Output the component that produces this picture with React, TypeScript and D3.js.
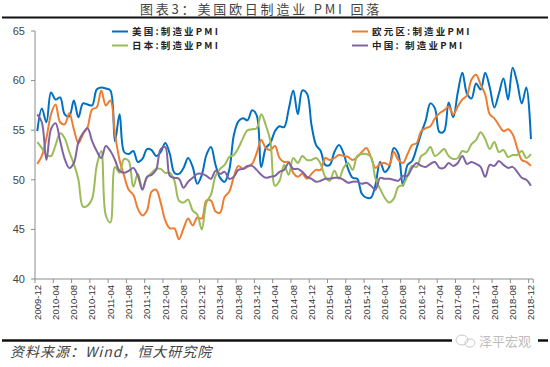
import * as d3 from 'd3'

// 月份类目：2009-12 ~ 2018-12
const MONTHS = d3
  .timeMonth.range(new Date(2009, 11, 1), new Date(2019, 0, 1))
  .map(d3.timeFormat('%Y-%m'))

const Y_TICKS = [40, 45, 50, 55, 60, 65]

// 美国 ISM 制造业PMI
const US = [
  54.9, 57.2, 55.8, 58.8, 58.1, 58.3, 56.6, 56.4, 58.0, 56.3, 57.7, 57.6, 57.5,
  59.1, 59.3, 59.2, 59.0, 53.9, 56.6, 52.8, 52.6, 52.9, 51.8, 52.1, 53.1,
  53.0, 52.4, 52.8, 53.7, 52.6, 50.7, 50.6, 51.2, 52.2, 51.3, 49.6, 50.5,
  52.5, 53.3, 51.5, 50.2, 49.8, 51.0, 54.5, 55.9, 56.2, 56.0, 57.0, 56.5,
  51.3, 53.2, 53.7, 54.9, 55.4, 55.3, 57.1, 59.0, 56.6, 59.0, 58.7, 55.5,
  53.5, 52.9, 51.5, 51.5, 52.8, 53.5, 52.7, 51.1, 50.2, 50.1, 48.6, 48.2,
  48.2, 49.5, 51.8, 50.8, 51.3, 53.2, 52.6, 49.4, 51.5, 51.9, 53.2, 54.7,
  56.0, 57.7, 57.2, 54.8, 54.9, 57.8, 56.3, 58.8, 60.8, 58.7, 58.2, 59.7,
  59.1, 60.8, 59.3, 57.3, 58.7, 60.2, 58.1, 61.3, 59.8, 57.7, 59.3, 54.1,
]

// 欧元区 制造业PMI
const EURO = [
  51.6, 52.4, 54.2, 56.6, 57.6, 55.8, 55.6, 56.7, 55.1, 53.7, 54.6, 55.3, 57.1,
  57.3, 59.0, 57.5, 58.0, 54.6, 52.0, 50.4, 49.0, 48.5, 47.1, 46.4, 46.9,
  48.8, 49.0, 47.7, 45.9, 45.1, 45.1, 44.0, 45.1, 46.1, 45.4, 46.2, 46.1,
  47.9, 47.9, 46.8, 46.7, 48.3, 48.8, 50.3, 51.4, 51.1, 51.3, 51.6, 52.7,
  54.0, 53.2, 53.0, 53.4, 52.2, 51.8, 51.8, 50.7, 50.3, 50.6, 50.1, 50.6,
  51.0, 51.0, 52.2, 52.0, 52.2, 52.5, 52.4, 52.3, 52.0, 52.3, 52.8, 53.2,
  52.3, 51.2, 51.6, 51.7, 51.5, 52.8, 52.0, 51.7, 52.6, 53.5, 53.7, 54.9,
  55.2, 55.4, 56.2, 56.7, 57.0, 57.4, 56.6, 57.4, 58.1, 58.5, 60.1, 60.6,
  59.6, 58.6, 56.6, 56.2, 55.5, 54.9, 55.1, 54.6, 53.2, 52.0, 51.8, 51.4,
]

// 日本 制造业PMI
const JAPAN = [
  53.8, 53.2, 52.5, 52.4, 53.5, 54.7, 54.2, 52.8, 51.6, 50.0, 47.3, 47.4, 48.1,
  51.4, 52.9, 46.4, 45.7, 51.3, 50.7, 52.1, 51.9, 49.3, 50.6, 49.1, 50.2,
  50.7, 51.1, 51.1, 50.7, 50.7, 49.9, 47.9, 47.7, 48.0, 46.9, 46.5, 45.0,
  47.7, 48.5, 50.4, 51.1, 51.5, 52.3, 52.5, 53.2, 54.2, 55.0, 55.1, 55.2,
  56.6, 55.5, 53.9, 49.4, 49.9, 51.5, 50.5, 52.2, 51.7, 52.4, 52.0, 52.0,
  52.2, 51.6, 50.3, 49.9, 50.9, 50.1, 51.2, 51.7, 51.0, 52.4, 52.6, 52.6,
  52.3, 50.1, 49.1, 48.2, 47.7, 48.1, 49.3, 49.5, 50.4, 51.4, 51.3, 52.4,
  52.7, 53.3, 52.4, 52.7, 53.1, 52.4, 52.1, 52.2, 52.9, 52.8, 53.6, 54.0,
  54.8, 54.1, 53.1, 53.8, 52.8, 53.0, 52.3, 52.5, 52.5, 52.9, 52.2, 52.6,
]

// 中国 制造业PMI
const CHINA = [
  56.6, 55.8, 52.0, 55.1, 55.7, 53.9, 52.1, 51.2, 51.7, 53.8, 54.7, 55.2, 53.9,
  52.9, 52.2, 53.4, 52.9, 52.0, 50.9, 50.7, 50.9, 51.2, 50.4, 49.0, 50.3,
  50.5, 51.0, 53.1, 53.3, 50.4, 50.2, 50.1, 49.2, 49.8, 50.2, 50.6, 50.6,
  50.4, 50.1, 50.9, 50.6, 50.8, 50.1, 50.3, 51.0, 51.1, 51.4, 51.4, 51.0,
  50.5, 50.2, 50.3, 50.4, 50.8, 51.0, 51.7, 51.1, 51.1, 50.8, 50.3, 50.1,
  49.8, 49.9, 50.1, 50.1, 50.2, 50.2, 50.0, 49.7, 49.8, 49.8, 49.6, 49.7,
  49.4, 49.0, 50.2, 50.1, 50.1, 50.0, 49.9, 50.4, 50.4, 51.2, 51.7, 51.4,
  51.3, 51.6, 51.8, 51.2, 51.2, 51.7, 51.4, 51.7, 52.4, 51.6, 51.8, 51.6,
  51.3, 50.3, 51.5, 51.4, 51.9, 51.5, 51.2, 51.3, 50.8, 50.2, 50.0, 49.4,
]

const SERIES = [
  { name: '美国:制造业PMI', values: US, color: '#0070C0' },
  { name: '欧元区:制造业PMI', values: EURO, color: '#ED7D31' },
  { name: '日本:制造业PMI', values: JAPAN, color: '#9BBB59' },
  { name: '中国: 制造业PMI', values: CHINA, color: '#8064A2' },
]

export default function App() {
  const width = 550
  const height = 367
  const plot = { left: 35, right: 533.2, top: 31, bottom: 279 }

  const x = d3.scaleBand<string>().domain(MONTHS).range([plot.left, plot.right])
  const bw = x.bandwidth()
  const cx = (m: string) => x(m)! + bw / 2

  const y = d3.scaleLinear().domain([40, 65]).range([plot.bottom, plot.top])

  const line = d3
    .line<number>()
    .x((_, i) => cx(MONTHS[i]))
    .y((d) => y(d))
    .curve(d3.curveCatmullRom.alpha(0.5))

  const axisColor = '#8c8c8c'
  const sans = 'Liberation Sans, Arial, sans-serif'
  const cjk = '"Noto Sans CJK SC", sans-serif'

  // 图例位置
  const legend = [
    { x: 112, y: 31.5 },
    { x: 352, y: 31.5 },
    { x: 112, y: 45.5 },
    { x: 352, y: 45.5 },
  ]

  return (
    <div style={{ position: 'absolute', left: 0, top: 0 }}>
      <svg width={width} height={height} style={{ display: 'block', background: '#fff' }}>
        {/* 标题 */}
        <text
          x={261}
          y={13.5}
          textAnchor='middle'
          fontSize={13}
          fontFamily={cjk}
          fill='#444'
          letterSpacing={2.8}
        >
          图表3：美国欧日制造业 PMI 回落
        </text>
        <line x1={2} x2={548} y1={17.5} y2={17.5} stroke='#111' strokeWidth={2.2} />

        {/* Y轴 */}
        <line x1={plot.left} x2={plot.left} y1={plot.top} y2={plot.bottom} stroke={axisColor} />
        {Y_TICKS.map((t) => (
          <g key={t} transform={`translate(0, ${y(t)})`}>
            <line x1={plot.left - 4} x2={plot.left} stroke={axisColor} />
            <text
              x={25}
              dy='0.35em'
              textAnchor='end'
              fontSize={11}
              fontFamily={sans}
              fill='#444'
            >
              {t}
            </text>
          </g>
        ))}

        {/* X轴 */}
        <line x1={plot.left} x2={plot.right} y1={plot.bottom} y2={plot.bottom} stroke={axisColor} />
        {MONTHS.map((m, i) =>
          i % 4 === 0 ? (
            <g key={m}>
              <line
                x1={x(m)}
                x2={x(m)}
                y1={plot.bottom}
                y2={plot.bottom + 4}
                stroke={axisColor}
              />
              <text
                transform={`translate(${cx(m)}, ${plot.bottom + 6}) rotate(-90)`}
                textAnchor='end'
                dy='0.35em'
                fontSize={9.5}
                fontFamily={sans}
                fill='#333'
              >
                {m}
              </text>
            </g>
          ) : null
        )}
        <line
          x1={plot.right}
          x2={plot.right}
          y1={plot.bottom}
          y2={plot.bottom + 4}
          stroke={axisColor}
        />

        {/* 折线 */}
        {SERIES.map((s) => (
          <path
            key={s.name}
            d={line(s.values) ?? ''}
            fill='none'
            stroke={s.color}
            strokeWidth={2}
          />
        ))}

        {/* 图例 */}
        {SERIES.map((s, i) => (
          <g key={s.name} transform={`translate(${legend[i].x}, ${legend[i].y})`}>
            <line x1={0} x2={16} stroke={s.color} strokeWidth={2} />
            <text
              x={20}
              dy='0.36em'
              fontSize={9.5}
              fontWeight='bold'
              fontFamily={cjk}
              fill='#222'
              letterSpacing={2.2}
            >
              {s.name}
            </text>
          </g>
        ))}

        {/* 底部 */}
        <line x1={2} x2={548} y1={340.5} y2={340.5} stroke='#111' strokeWidth={2.5} />
        <rect x={452} y={332} width={86} height={18} fill='#fff' />
        <g stroke='#c8c8c8' fill='none' strokeWidth={1}>
          <ellipse cx={462} cy={340} rx={6} ry={5} />
          <ellipse cx={470} cy={343} rx={5} ry={4} />
        </g>
        <text x={479} y={346} fontSize={13} fontFamily={cjk} fill='#bdbdbd'>
          泽平宏观
        </text>
        <text
          x={10}
          y={357}
          fontSize={14}
          fontStyle='italic'
          fontFamily={cjk}
          fill='#444'
          letterSpacing={1}
        >
          资料来源：Wind，恒大研究院
        </text>
      </svg>
    </div>
  )
}
